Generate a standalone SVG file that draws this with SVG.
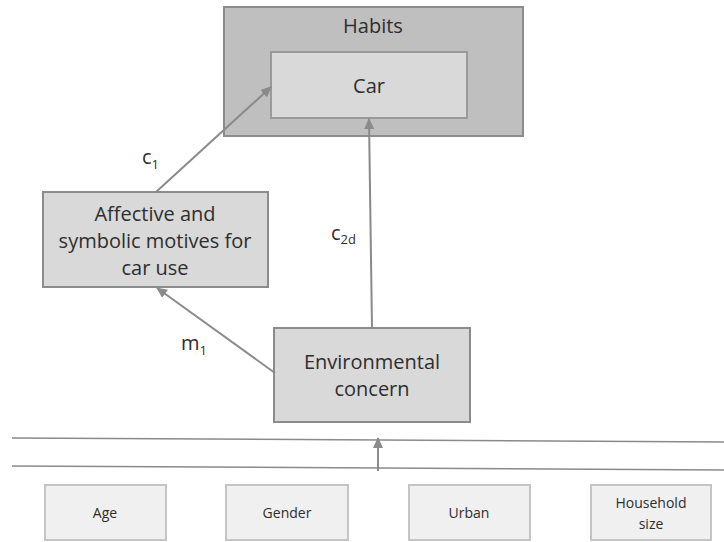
<svg xmlns="http://www.w3.org/2000/svg" width="724" height="542" viewBox="0 0 724 542">
<style>
text{font-family:"Open Sans","Liberation Sans",sans-serif;fill:#2e2e2e;text-anchor:middle}
.big{font-size:20px}
.small{font-size:14px}
.lbl{font-size:20px;text-anchor:start}
.sub{font-size:13px;text-anchor:start}
.dark{fill:#d9d9d9;stroke:#8c8c8c;stroke-width:2}
.outer{fill:#bfbfbf;stroke:#8c8c8c;stroke-width:2}
.inner{fill:#d9d9d9;stroke:#9a9a9a;stroke-width:2}
.light{fill:#f0f0f0;stroke:#c4c4c4;stroke-width:2}
.conn{stroke:#8a8a8a;stroke-width:2;fill:none}
.rule{stroke:#8a8a8a;stroke-width:1.5;fill:none}
</style>
<defs>
<marker id="ah" markerUnits="userSpaceOnUse" markerWidth="12" markerHeight="10" refX="10" refY="5" orient="auto">
<path d="M0,0 L11,5 L0,10 Z" fill="#8a8a8a"/>
</marker>
</defs>
<g id="habits">
<rect class="outer" x="224" y="7" width="299" height="129"/>
<text class="big" x="373" y="33">Habits</text>
</g>
<g id="car">
<rect class="inner" x="271" y="52" width="196" height="66"/>
<text class="big" x="369" y="93">Car</text>
</g>
<g id="affective">
<rect class="dark" x="43" y="192" width="225" height="95"/>
<text class="big" x="155" y="221">Affective and</text>
<text class="big" x="155" y="248">symbolic motives for</text>
<text class="big" x="155" y="275">car use</text>
</g>
<g id="environmental">
<rect class="dark" x="274" y="328" width="196" height="94"/>
<text class="big" x="372" y="369">Environmental</text>
<text class="big" x="372" y="396">concern</text>
</g>
<g id="age">
<rect class="light" x="45" y="485" width="121" height="55"/>
<text class="small" x="105" y="518">Age</text>
</g>
<g id="gender">
<rect class="light" x="226" y="485" width="122" height="55"/>
<text class="small" x="287" y="518">Gender</text>
</g>
<g id="urban">
<rect class="light" x="409" y="485" width="121" height="55"/>
<text class="small" x="469" y="518">Urban</text>
</g>
<g id="household">
<rect class="light" x="591" y="485" width="120" height="55"/>
<text class="small" x="651" y="508">Household</text>
<text class="small" x="651" y="529">size</text>
</g>
<g id="connectors">
<line class="conn" x1="156" y1="192" x2="271" y2="87" marker-end="url(#ah)"/>
<line class="conn" x1="372" y1="328" x2="369" y2="119" marker-end="url(#ah)"/>
<line class="conn" x1="275" y1="373" x2="157" y2="288" marker-end="url(#ah)"/>
<line class="rule" x1="12" y1="438" x2="724" y2="442"/>
<line class="rule" x1="12" y1="466" x2="724" y2="470"/>
<line class="conn" x1="378" y1="471" x2="378" y2="438" marker-end="url(#ah)"/>
</g>
<g id="labels">
<text class="lbl" x="142" y="164">c<tspan class="sub" dy="5">1</tspan></text>
<text class="lbl" x="331" y="240">c<tspan class="sub" dy="4">2d</tspan></text>
<text class="lbl" x="181" y="350">m<tspan class="sub" dy="5">1</tspan></text>
</g>
</svg>
